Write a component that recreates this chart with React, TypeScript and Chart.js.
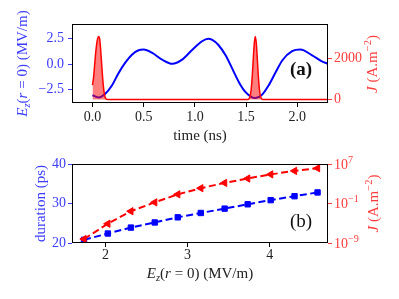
import React, { useEffect, useRef } from 'react';
import { Chart, registerables } from 'chart.js';

Chart.register(...registerables);

// ---------- panel (a) data ----------
const timeEz = [0, 0.06, 0.12, 0.19, 0.25, 0.32, 0.385, 0.45, 0.5, 0.58, 0.68, 0.78, 0.875, 0.97, 1.07, 1.13, 1.17, 1.23, 1.3, 1.365, 1.43, 1.495, 1.56, 1.59, 1.655, 1.72, 1.79, 1.855, 1.95, 2.03, 2.145, 2.24, 2.3];
const ezValues = [-3.08, -3.3, -2.98, -2.12, -0.98, 0.13, 0.92, 1.36, 1.42, 1.12, 0.43, 0.02, 0.43, 1.36, 2.25, 2.5, 2.38, 1.88, 0.86, -0.46, -1.79, -2.78, -3.3, -3.36, -3.05, -2.12, -0.79, 0.37, 1.26, 1.42, 0.86, 0.27, 0.02];
const timeJ = [0, 0.01, 0.02, 0.03, 0.04, 0.05, 0.06, 0.07, 0.08, 0.09, 0.1, 0.11, 0.12, 0.13, 0.15, 1.52, 1.53, 1.54, 1.55, 1.56, 1.57, 1.58, 1.59, 1.6, 1.61, 1.62, 1.63, 1.64, 1.65, 1.66, 2.3];
const jValues = [700, 1050, 1600, 2200, 2650, 2950, 3060, 2950, 2400, 1700, 1000, 480, 180, 50, 0, 0, 52, 180, 500, 1100, 1940, 2720, 3060, 2720, 1940, 1100, 500, 180, 52, 0, 0];
const timeTicks = [0, 0.5, 1, 1.5, 2];
const ezTicks = [-2.5, 0, 2.5];
const jTicks = [0, 2000];

// ---------- panel (b) data ----------
const fieldValues = [1.74, 2.03, 2.31, 2.6, 2.88, 3.16, 3.45, 3.73, 4.01, 4.3, 4.58];
const durationValues = [20.8, 22.4, 23.9, 25.2, 26.5, 27.6, 28.7, 29.8, 30.85, 31.85, 32.8];
const jPeakValues = [6.3e-9, 7.9e-6, 2.7e-3, 0.17, 7.2, 126, 1480, 11500, 79000, 400000, 1.4e6];
const fieldTicks = [2, 3, 4];
const durationTicks = [20, 30, 40];
const jLogTicks = [1e-9, 1e-1, 1e7];
const jLogTickExp = ['−9', '−1', '7'];

const FONT = '"Liberation Serif", "DejaVu Serif", serif';
const BLUE = '#0000ff';
const RED = '#ff0000';
const BLUE_TXT = '#3c3cff';
const RED_TXT = '#ff3c3c';

type Seg = { t: string; it?: boolean; sc?: number; sh?: number };

function drawRich(ctx: CanvasRenderingContext2D, segs: Seg[], cx: number, cy: number, size: number, color: string, rot: number, weight = '', align: 'center' | 'left' = 'center') {
  ctx.save();
  ctx.translate(cx, cy);
  if (rot) ctx.rotate(rot);
  ctx.fillStyle = color;
  ctx.textBaseline = 'alphabetic';
  ctx.textAlign = 'left';
  const fontOf = (s: Seg) => `${s.it ? 'italic ' : ''}${weight ? weight + ' ' : ''}${(size * (s.sc ?? 1)).toFixed(1)}px ${FONT}`;
  let total = 0;
  const widths = segs.map((s) => {
    ctx.font = fontOf(s);
    const w = ctx.measureText(s.t).width;
    total += w;
    return w;
  });
  let x = align === 'center' ? -total / 2 : 0;
  const base = size * 0.33;
  segs.forEach((s, i) => {
    ctx.font = fontOf(s);
    ctx.fillText(s.t, x, base + (s.sh ?? 0));
    x += widths[i];
  });
  ctx.restore();
}

const ezTitle: Seg[] = [
  { t: 'E', it: true },
  { t: 'z', it: true, sc: 0.7, sh: 3 },
  { t: '(' },
  { t: 'r', it: true },
  { t: ' = 0) (MV/m)' },
];
const jTitle: Seg[] = [
  { t: 'J', it: true },
  { t: ' (A.m' },
  { t: '−2', sc: 0.7, sh: -6 },
  { t: ')' },
];

function frame(chart: any) {
  const { ctx, chartArea } = chart;
  ctx.save();
  ctx.strokeStyle = '#000';
  ctx.lineWidth = 1;
  ctx.strokeRect(Math.round(chartArea.left) + 0.5, Math.round(chartArea.top) + 0.5, Math.round(chartArea.right - chartArea.left) - 1, Math.round(chartArea.bottom - chartArea.top) - 1);
  ctx.restore();
}

const fmt = (v: number, d: number) => (v < 0 ? '−' + Math.abs(v).toFixed(d) : v.toFixed(d));

function axisCommon(color: string, tickColor: string, pad: number) {
  return {
    ticks: { color, font: { family: FONT, size: 14 }, padding: pad, maxRotation: 0, autoSkip: false },
    grid: { display: true, drawOnChartArea: false, drawTicks: true, tickLength: 4, tickColor, color: tickColor },
    border: { display: false },
  };
}

export default function App() {
  const refA = useRef<HTMLCanvasElement>(null);
  const refB = useRef<HTMLCanvasElement>(null);

  useEffect(() => {
    const decoA = {
      id: 'decoA',
      afterDraw(chart: any) {
        const ctx = chart.ctx as CanvasRenderingContext2D;
        frame(chart);
        drawRich(ctx, ezTitle, 22, 63.5, 15, BLUE_TXT, -Math.PI / 2);
        drawRich(ctx, jTitle, 372, 64, 15, RED_TXT, -Math.PI / 2);
        drawRich(ctx, [{ t: 'time (ns)' }], 200, 135, 15, '#222', 0);
        drawRich(ctx, [{ t: '(a)' }], 301, 69, 19, '#111', 0, 'bold');
      },
    };
    const decoB = {
      id: 'decoB',
      afterDraw(chart: any) {
        const ctx = chart.ctx as CanvasRenderingContext2D;
        frame(chart);
        drawRich(ctx, [{ t: 'duration (ps)' }], 40, 53.5, 15, BLUE_TXT, -Math.PI / 2);
        drawRich(ctx, jTitle, 373, 53.5, 15, RED_TXT, -Math.PI / 2);
        drawRich(ctx, ezTitle, 200, 123, 15, '#222', 0);
        drawRich(ctx, [{ t: '(b)' }], 301, 71, 19, '#111', 0);
        const s = chart.scales.y1;
        jLogTicks.forEach((v, i) => {
          const y = s.getPixelForValue(v);
          drawRich(ctx, [{ t: '10' }, { t: jLogTickExp[i], sc: 0.72, sh: -6 }], s.left + 6, y, 14, RED_TXT, 0, '', 'left');
        });
      },
    };

    const a = new Chart(refA.current!, {
      type: 'line',
      data: {
        datasets: [
          {
            data: timeJ.map((t, i) => ({ x: t, y: jValues[i] })),
            yAxisID: 'y1',
            borderColor: RED,
            borderWidth: 1.5,
            backgroundColor: 'rgba(255,0,0,0.5)',
            fill: 'origin',
            pointRadius: 0,
            cubicInterpolationMode: 'monotone',
          },
          {
            data: timeEz.map((t, i) => ({ x: t, y: ezValues[i] })),
            yAxisID: 'y',
            borderColor: BLUE,
            borderWidth: 2,
            fill: false,
            pointRadius: 0,
            cubicInterpolationMode: 'monotone',
          },
        ],
      },
      options: {
        animation: false,
        responsive: false,
        events: [],
        layout: { padding: { top: 24, left: 0, right: 0, bottom: 0 } },
        plugins: { legend: { display: false }, tooltip: { enabled: false } },
        scales: {
          x: {
            type: 'linear',
            min: -0.2,
            max: 2.3,
            afterBuildTicks: (s: any) => { s.ticks = timeTicks.map((v) => ({ value: v })); },
            afterFit: (s: any) => { s.height = 47; },
            ...axisCommon('#222', '#000', 2),
            ticks: { ...axisCommon('#222', '#000', 2).ticks, callback: (v: any) => fmt(Number(v), 1) },
          },
          y: {
            type: 'linear',
            position: 'left',
            min: -3.85,
            max: 3.95,
            afterBuildTicks: (s: any) => { s.ticks = ezTicks.map((v) => ({ value: v })); },
            afterFit: (s: any) => { s.width = 72; },
            ...axisCommon(BLUE_TXT, BLUE_TXT, 4),
            ticks: { ...axisCommon(BLUE_TXT, BLUE_TXT, 4).ticks, callback: (v: any) => fmt(Number(v), 1) },
          },
          y1: {
            type: 'linear',
            position: 'right',
            min: -166,
            max: 3660,
            afterBuildTicks: (s: any) => { s.ticks = jTicks.map((v) => ({ value: v })); },
            afterFit: (s: any) => { s.width = 71; },
            ...axisCommon(RED_TXT, RED_TXT, 2),
            ticks: { ...axisCommon(RED_TXT, RED_TXT, 2).ticks, callback: (v: any) => String(v) },
          },
        },
      },
      plugins: [decoA],
    } as any);

    const b = new Chart(refB.current!, {
      type: 'line',
      data: {
        datasets: [
          {
            data: fieldValues.map((e, i) => ({ x: e, y: jPeakValues[i] })),
            yAxisID: 'y1',
            borderColor: RED,
            backgroundColor: RED,
            borderWidth: 2,
            borderDash: [7, 3.5],
            fill: false,
            pointStyle: 'triangle',
            pointRotation: -90,
            pointRadius: 4.2,
            pointBorderWidth: 1,
            tension: 0,
          },
          {
            data: fieldValues.map((e, i) => ({ x: e, y: durationValues[i] })),
            yAxisID: 'y',
            borderColor: BLUE,
            backgroundColor: BLUE,
            borderWidth: 2,
            borderDash: [7, 3.5],
            fill: false,
            pointStyle: 'rect',
            pointRadius: 3.8,
            pointBorderWidth: 1,
            tension: 0,
          },
        ],
      },
      options: {
        animation: false,
        responsive: false,
        events: [],
        layout: { padding: { top: 14, left: 0, right: 0, bottom: 0 } },
        plugins: { legend: { display: false }, tooltip: { enabled: false } },
        scales: {
          x: {
            type: 'linear',
            min: 1.594,
            max: 4.707,
            afterBuildTicks: (s: any) => { s.ticks = fieldTicks.map((v) => ({ value: v })); },
            afterFit: (s: any) => { s.height = 56; },
            ...axisCommon('#222', '#000', 0),
            ticks: { ...axisCommon('#222', '#000', 0).ticks, callback: (v: any) => String(v) },
          },
          y: {
            type: 'linear',
            position: 'left',
            min: 20,
            max: 40,
            afterBuildTicks: (s: any) => { s.ticks = durationTicks.map((v) => ({ value: v })); },
            afterFit: (s: any) => { s.width = 72; },
            ...axisCommon(BLUE_TXT, BLUE_TXT, 2),
            ticks: { ...axisCommon(BLUE_TXT, BLUE_TXT, 2).ticks, callback: (v: any) => String(v) },
          },
          y1: {
            type: 'logarithmic',
            position: 'right',
            min: 1e-9,
            max: 1e7,
            afterBuildTicks: (s: any) => { s.ticks = jLogTicks.map((v) => ({ value: v })); },
            afterFit: (s: any) => { s.width = 71; },
            ...axisCommon(RED_TXT, RED_TXT, 2),
            ticks: { ...axisCommon(RED_TXT, RED_TXT, 2).ticks, callback: () => '' },
          },
        },
      },
      plugins: [decoB],
    } as any);

    return () => {
      a.destroy();
      b.destroy();
    };
  }, []);

  return (
    <div style={{ position: 'fixed', left: 0, top: 0, width: 399, height: 299, background: '#fff' }}>
      <canvas ref={refA} width={399} height={150} style={{ position: 'absolute', left: 0, top: 0, display: 'block' }} />
      <canvas ref={refB} width={399} height={149} style={{ position: 'absolute', left: 0, top: 150, display: 'block' }} />
    </div>
  );
}
